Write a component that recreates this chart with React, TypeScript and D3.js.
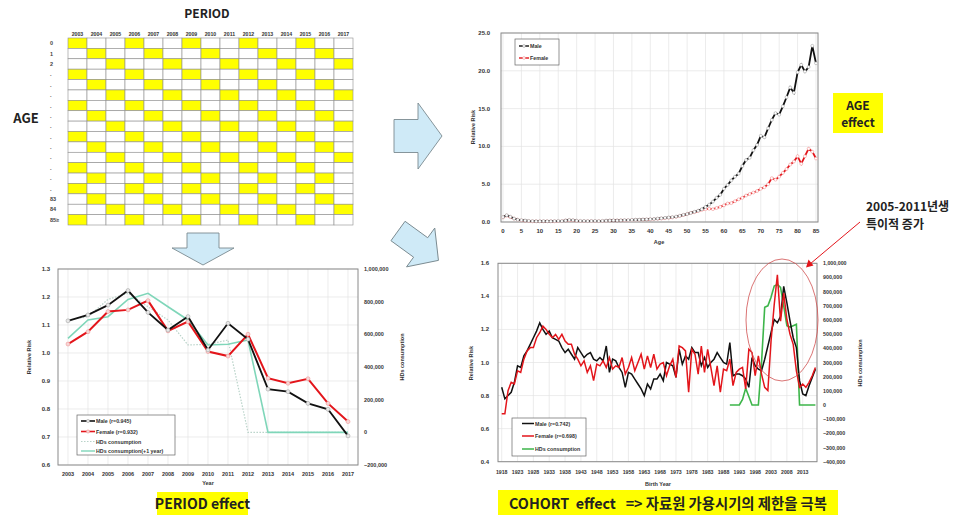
import React from 'react';
import * as d3 from 'd3';

// ---------- DATA ----------
const gridYears = ['2003','2004','2005','2006','2007','2008','2009','2010','2011','2012','2013','2014','2015','2016','2017'];
const ageRowLabels = ['0','1','2','.','.','.','.','.','.','.','.','.','.','.','.','83','84','85≥'];
const ageRowDiag = [0,1,2,3,4,5,6,7,8,9,10,11,12,13,15,16,17,18];

const periodYears = ['2003','2004','2005','2006','2007','2008','2009','2010','2011','2012','2013','2014','2015','2016','2017'];
const periodMale = [1.115,1.136,1.171,1.223,1.145,1.082,1.13,1.011,1.106,1.049,0.871,0.862,0.82,0.799,0.704];
const periodFemale = [1.032,1.076,1.148,1.154,1.187,1.079,1.112,1.005,0.989,1.067,0.91,0.892,0.908,0.82,0.755];
const periodHDs = [688000,708000,814000,851000,769000,688000,535000,539000,565000,0,0,0,0,0,0];
const periodHDsLag = [575000,688000,708000,814000,851000,769000,688000,535000,539000,565000,0,0,0,0,0];
const periodLeftTicks = [0.6,0.7,0.8,0.9,1.0,1.1,1.2,1.3];
const periodRightTicks = [-200000,0,200000,400000,600000,800000,1000000];

const ages = d3.range(0, 86);
const ageMale = [0.65,0.9,0.7,0.45,0.3,0.25,0.2,0.15,0.12,0.1,0.1,0.12,0.1,0.1,0.12,0.15,0.12,0.2,0.28,0.25,
  0.18,0.15,0.15,0.12,0.14,0.15,0.12,0.15,0.18,0.2,0.22,0.2,0.22,0.25,0.25,0.28,0.3,0.3,0.33,0.35,
  0.38,0.4,0.45,0.5,0.55,0.6,0.65,0.72,0.82,0.95,1.05,1.2,1.35,1.5,1.7,2.0,2.3,2.7,3.2,3.6,
  4.4,4.9,5.5,6.0,6.4,7.4,8.2,8.5,9.5,10.2,11.4,11.2,12.4,13.5,14.4,14.2,15.3,16.5,17.8,17.1,
  19.8,20.8,19.9,20.5,23.3,21.0];
const ageFemale = [0.6,0.85,0.65,0.45,0.3,0.22,0.15,0.12,0.1,0.1,0.1,0.1,0.1,0.1,0.1,0.12,0.12,0.2,0.25,0.22,
  0.15,0.13,0.12,0.12,0.13,0.13,0.12,0.14,0.16,0.18,0.2,0.2,0.21,0.23,0.24,0.26,0.28,0.29,0.31,0.33,
  0.35,0.38,0.42,0.46,0.5,0.55,0.6,0.68,0.8,0.92,1.05,1.2,1.3,1.45,1.6,1.7,1.75,1.7,1.85,2.0,
  2.2,2.45,2.5,2.75,3.0,3.2,3.5,3.7,3.9,4.1,4.4,4.6,5.0,5.8,5.6,6.0,6.5,7.0,7.6,8.0,
  8.7,7.7,8.7,9.7,9.3,8.4];
const ageYTicks = [0,5,10,15,20,25];
const ageXTicks = [0,5,10,15,20,25,30,35,40,45,50,55,60,65,70,75,80,85];

const cohortYears = d3.range(1918, 2018);
const cohortMale = [0.85,0.78,0.80,0.82,0.88,0.98,0.97,1.04,1.07,1.11,
  1.15,1.19,1.24,1.20,1.17,1.19,1.15,1.14,1.13,1.09,
  1.06,1.08,1.05,1.02,1.09,1.06,1.03,1.05,1.06,1.02,
  1.01,1.03,1.01,1.10,0.94,1.02,1.01,0.97,0.94,0.85,
  0.94,0.93,0.90,0.87,0.84,0.80,0.87,0.84,0.90,0.90,
  0.93,0.89,1.00,0.99,0.98,0.91,1.08,0.99,1.04,1.02,
  1.09,1.06,1.06,0.98,1.03,0.97,1.00,1.02,1.06,1.03,
  1.00,0.99,1.12,0.92,0.93,0.93,0.92,0.90,0.85,1.03,
  0.98,0.96,0.95,1.02,1.10,1.18,1.26,1.24,1.28,1.46,
  1.36,1.25,1.15,1.09,0.89,0.81,0.80,0.86,0.91,0.96];
const cohortFemale = [0.69,0.69,0.83,0.88,0.87,0.95,0.94,1.02,1.07,1.09,
  1.09,1.15,1.18,1.22,1.20,1.17,1.15,1.17,1.14,1.17,
  1.13,1.11,1.11,1.05,1.02,0.98,1.01,0.94,0.98,0.89,
  0.99,0.98,1.01,0.97,1.03,0.96,0.98,0.97,1.03,0.93,
  0.97,1.03,0.95,1.00,1.05,0.96,1.04,0.97,1.05,0.96,
  0.99,1.00,0.92,0.98,1.02,0.91,1.10,1.09,1.07,0.82,
  1.08,1.05,0.93,1.10,0.94,1.08,0.97,0.86,0.98,0.82,
  0.96,0.95,1.02,0.86,0.94,0.96,0.97,0.84,1.08,1.06,
  0.92,1.04,0.93,0.85,0.83,1.13,1.35,1.53,1.25,1.42,
  1.26,1.17,1.11,0.95,0.85,0.87,0.85,0.88,0.92,0.97];
const cohortHDsYears = d3.range(1990, 2018);
const cohortHDs = [0,0,0,0,40000,118000,60000,0,0,0,
  300000,690000,700000,760000,840000,850000,830000,700000,560000,550000,
  560000,570000,0,0,0,0,0,0];
const cohortLeftTicks = [0.4,0.6,0.8,1.0,1.2,1.4,1.6];
const cohortRightTicks = [-400000,-300000,-200000,-100000,0,100000,200000,300000,400000,500000,600000,700000,800000,900000,1000000];
const cohortXTicks = [1918,1923,1928,1933,1938,1943,1948,1953,1958,1963,1968,1973,1978,1983,1988,1993,1998,2003,2008,2013];

// ---------- STYLE ----------
const tf = "'Liberation Sans', Arial, sans-serif";
const kf = "'Noto Sans CJK KR', 'Noto Sans', sans-serif";
const RED = '#e3151b';
const GRID = '#e4e4e4';
const FRAME = '#8a8a8a';
const fmt = d3.format(',');

function AgePeriodGrid() {
  const x = d3.scaleBand<string>().domain(gridYears).range([68, 353]);
  const y = d3.scaleBand<number>().domain(d3.range(ageRowLabels.length)).range([38, 225]);
  return (
    <g>
      <text x={207} y={18} textAnchor="middle" fontFamily={kf} fontWeight={700} fontSize={12} fill="#222">PERIOD</text>
      <text x={26} y={123} textAnchor="middle" fontFamily={kf} fontWeight={700} fontSize={13} fill="#222">AGE</text>
      {gridYears.map(yr => (
        <text key={yr} x={x(yr)! + x.bandwidth() / 2} y={35.5} textAnchor="middle" fontFamily={tf} fontWeight={700} fontSize={5.2} fill="#333">{yr}</text>
      ))}
      {ageRowLabels.map((lab, r) => (
        <text key={r} x={50} y={y(r)! + y.bandwidth() / 2 + 2} fontFamily={tf} fontWeight={700} fontSize={5.5} fill="#444">{lab}</text>
      ))}
      {ageRowLabels.map((lab, r) => gridYears.map((yr, c) => (
        <rect key={r + '-' + c} x={x(yr)} y={y(r)} width={x.bandwidth()} height={y.bandwidth()}
          fill={((c - ageRowDiag[r]) % 3 + 3) % 3 === 0 ? '#ffff00' : '#ffffff'} stroke="#8e8e8e" strokeWidth={0.6} />
      )))}
    </g>
  );
}

function PeriodChart() {
  const x = d3.scaleBand<string>().domain(periodYears).range([58, 358]);
  const cx = (i: number) => x(periodYears[i])! + x.bandwidth() / 2;
  const y = d3.scaleLinear().domain([0.6, 1.3]).range([465, 269]);
  const yR = d3.scaleLinear().domain([-200000, 1000000]).range([465, 269]);
  const lineL = d3.line<number>().x((d, i) => cx(i)).y(d => y(d));
  const lineR = d3.line<number>().x((d, i) => cx(i)).y(d => yR(d));
  return (
    <g>
      {periodLeftTicks.map(t => <line key={t} x1={58} x2={358} y1={y(t)} y2={y(t)} stroke={GRID} strokeWidth={0.7} />)}
      {periodYears.map((yr, i) => <line key={yr} x1={cx(i)} x2={cx(i)} y1={269} y2={465} stroke={GRID} strokeWidth={0.7} />)}
      <rect x={58} y={269} width={300} height={196} fill="none" stroke={FRAME} strokeWidth={1} />
      {periodLeftTicks.map(t => (
        <text key={t} x={50} y={y(t) + 2} textAnchor="end" fontFamily={tf} fontWeight={700} fontSize={6} fill="#333">{t.toFixed(1)}</text>
      ))}
      {periodRightTicks.map(t => (
        <text key={t} x={364} y={yR(t) + 2} fontFamily={tf} fontWeight={700} fontSize={5.5} fill="#333">{fmt(t)}</text>
      ))}
      {periodYears.map((yr, i) => (
        <text key={yr} x={cx(i)} y={476} textAnchor="middle" fontFamily={tf} fontWeight={700} fontSize={5.5} fill="#333">{yr}</text>
      ))}
      <text x={208} y={485} textAnchor="middle" fontFamily={tf} fontWeight={700} fontSize={5.5} fill="#333">Year</text>
      <text transform="translate(31,357) rotate(-90)" textAnchor="middle" fontFamily={tf} fontWeight={700} fontSize={5.5} fill="#333">Relative Risk</text>
      <text transform="translate(404,357) rotate(-90)" textAnchor="middle" fontFamily={tf} fontWeight={700} fontSize={5.5} fill="#333">HDs consumption</text>
      <path d={lineR(periodHDs)!} fill="none" stroke="#b9d3c9" strokeWidth={1.2} strokeDasharray="1.5,1.5" />
      <path d={lineR(periodHDsLag)!} fill="none" stroke="#7fd6b9" strokeWidth={1.6} />
      <path d={lineL(periodFemale)!} fill="none" stroke={RED} strokeWidth={2} />
      {periodFemale.map((v, i) => <circle key={i} cx={cx(i)} cy={y(v)} r={2} fill="#f6d6d6" stroke="#e88" strokeWidth={0.5} />)}
      <path d={lineL(periodMale)!} fill="none" stroke="#111" strokeWidth={1.8} />
      {periodMale.map((v, i) => <circle key={i} cx={cx(i)} cy={y(v)} r={2} fill="#e6e6e6" stroke="#999" strokeWidth={0.5} />)}
      <rect x={77} y={415} width={98} height={40} fill="#fff" stroke="#666" strokeWidth={0.7} />
      <line x1={81} x2={95} y1={421} y2={421} stroke="#111" strokeWidth={1.6} />
      <circle cx={88} cy={421} r={1.6} fill="#e6e6e6" stroke="#999" strokeWidth={0.5} />
      <line x1={81} x2={95} y1={431.5} y2={431.5} stroke={RED} strokeWidth={1.6} />
      <circle cx={88} cy={431.5} r={1.6} fill="#f6d6d6" stroke="#e88" strokeWidth={0.5} />
      <line x1={81} x2={95} y1={441.5} y2={441.5} stroke="#b9d3c9" strokeWidth={1} strokeDasharray="1.5,1.5" />
      <line x1={81} x2={95} y1={451} y2={451} stroke="#7fd6b9" strokeWidth={1.4} />
      {['Male (r=0.945)', 'Female (r=0.932)', 'HDs consumption', 'HDs consumption(+1 year)'].map((t, i) => (
        <text key={t} x={96} y={[421, 431.5, 441.5, 451][i] + 2} fontFamily={tf} fontWeight={700} fontSize={5.3} fill="#333">{t}</text>
      ))}
    </g>
  );
}

function AgeChart() {
  const x = d3.scaleLinear().domain([0, 85]).range([503, 816]);
  const y = d3.scaleLinear().domain([0, 25]).range([222, 33]);
  const line = d3.line<number>().x((d, i) => x(ages[i])).y(d => y(d));
  return (
    <g>
      {ageYTicks.map(t => <line key={t} x1={501} x2={818} y1={y(t)} y2={y(t)} stroke={GRID} strokeWidth={0.7} />)}
      {ageXTicks.map(t => <line key={t} x1={x(t)} x2={x(t)} y1={33} y2={222} stroke={GRID} strokeWidth={0.7} />)}
      <rect x={501} y={33} width={317} height={189} fill="none" stroke={FRAME} strokeWidth={1} />
      {ageYTicks.map(t => (
        <text key={t} x={490} y={y(t) + 2} textAnchor="end" fontFamily={tf} fontWeight={700} fontSize={6} fill="#333">{t.toFixed(1)}</text>
      ))}
      {ageXTicks.map(t => (
        <text key={t} x={x(t)} y={233} textAnchor="middle" fontFamily={tf} fontWeight={700} fontSize={6} fill="#333">{t}</text>
      ))}
      <text x={659} y={244} textAnchor="middle" fontFamily={tf} fontWeight={700} fontSize={5.5} fill="#333">Age</text>
      <text transform="translate(475,127) rotate(-90)" textAnchor="middle" fontFamily={tf} fontWeight={700} fontSize={5.5} fill="#333">Relative Risk</text>
      <path d={line(ageFemale)!} fill="none" stroke={RED} strokeWidth={1.8} />
      {ageFemale.map((v, i) => <circle key={i} cx={x(ages[i])} cy={y(v)} r={1.5} fill="#fff" stroke="#f08a8a" strokeWidth={0.5} />)}
      <path d={line(ageMale)!} fill="none" stroke="#111" strokeWidth={1.8} />
      {ageMale.map((v, i) => <circle key={i} cx={x(ages[i])} cy={y(v)} r={1.5} fill="#fff" stroke="#999" strokeWidth={0.5} />)}
      <rect x={515} y={39} width={44} height={26} fill="#fff" stroke="#666" strokeWidth={0.7} />
      <line x1={519} x2={529} y1={46} y2={46} stroke="#111" strokeWidth={1.4} />
      <circle cx={524} cy={46} r={1.4} fill="#fff" stroke="#888" strokeWidth={0.5} />
      <line x1={519} x2={529} y1={58} y2={58} stroke={RED} strokeWidth={1.4} />
      <circle cx={524} cy={58} r={1.4} fill="#fff" stroke="#e88" strokeWidth={0.5} />
      <text x={530} y={48} fontFamily={tf} fontWeight={700} fontSize={5.3} fill="#333">Male</text>
      <text x={530} y={60} fontFamily={tf} fontWeight={700} fontSize={5.3} fill="#333">Female</text>
    </g>
  );
}

function CohortChart() {
  const x = d3.scaleLinear().domain([1918, 2017]).range([501.7, 815.4]);
  const y = d3.scaleLinear().domain([0.4, 1.6]).range([461.7, 263.3]);
  const yR = d3.scaleLinear().domain([-400000, 1000000]).range([461.7, 263.3]);
  const lineL = d3.line<number>().x((d, i) => x(cohortYears[i])).y(d => y(d));
  const lineG = d3.line<number>().x((d, i) => x(cohortHDsYears[i])).y(d => yR(d));
  return (
    <g>
      {cohortLeftTicks.map(t => <line key={t} x1={498} x2={817} y1={y(t)} y2={y(t)} stroke={GRID} strokeWidth={0.7} />)}
      {cohortXTicks.map(t => <line key={t} x1={x(t)} x2={x(t)} y1={263.3} y2={461.7} stroke={GRID} strokeWidth={0.7} />)}
      <rect x={498} y={263.3} width={319} height={198.4} fill="none" stroke={FRAME} strokeWidth={1} />
      {cohortLeftTicks.map(t => (
        <text key={t} x={489} y={y(t) + 2} textAnchor="end" fontFamily={tf} fontWeight={700} fontSize={6} fill="#333">{t.toFixed(1)}</text>
      ))}
      {cohortRightTicks.map(t => (
        <text key={t} x={823} y={yR(t) + 2} fontFamily={tf} fontWeight={700} fontSize={5.3} fill="#333">{fmt(t)}</text>
      ))}
      {cohortXTicks.map(t => (
        <text key={t} x={x(t)} y={474} textAnchor="middle" fontFamily={tf} fontWeight={700} fontSize={5.2} fill="#333">{t}</text>
      ))}
      <text x={658} y={486} textAnchor="middle" fontFamily={tf} fontWeight={700} fontSize={5.5} fill="#333">Birth Year</text>
      <text transform="translate(473,363) rotate(-90)" textAnchor="middle" fontFamily={tf} fontWeight={700} fontSize={5.5} fill="#333">Relative Risk</text>
      <text transform="translate(862,363) rotate(-90)" textAnchor="middle" fontFamily={tf} fontWeight={700} fontSize={5.5} fill="#333">HDs consumption</text>
      <path d={lineG(cohortHDs)!} fill="none" stroke="#3db54a" strokeWidth={1.6} />
      <path d={lineL(cohortMale)!} fill="none" stroke="#111" strokeWidth={1.5} />
      <path d={lineL(cohortFemale)!} fill="none" stroke={RED} strokeWidth={1.5} />
      <rect x={512} y={418} width={74} height={38} fill="#fff" stroke="#666" strokeWidth={0.7} />
      <line x1={522} x2={534} y1={423.5} y2={423.5} stroke="#111" strokeWidth={1.5} />
      <line x1={522} x2={534} y1={436} y2={436} stroke={RED} strokeWidth={1.5} />
      <line x1={522} x2={534} y1={449} y2={449} stroke="#3db54a" strokeWidth={1.5} />
      {['Male (r=0.742)', 'Female (r=0.698)', 'HDs consumption'].map((t, i) => (
        <text key={t} x={535} y={[423.5, 436, 449][i] + 2} fontFamily={tf} fontWeight={700} fontSize={5.3} fill="#333">{t}</text>
      ))}
      <ellipse cx={782} cy={320} rx={36} ry={61} fill="none" stroke="#d05050" strokeWidth={0.8} />
    </g>
  );
}

function Arrows() {
  const arrowFill = '#cfeaf7';
  const arrowStroke = '#7a8a90';
  const rightArrow = (L: number, sh: number, hh: number, hl: number) =>
    `M0,${-sh} L${L - hl},${-sh} L${L - hl},${-hh} L${L},0 L${L - hl},${hh} L${L - hl},${sh} L0,${sh} Z`;
  return (
    <g>
      <path transform="translate(394,136)" d={rightArrow(48, 16.5, 33, 24)} fill={arrowFill} stroke={arrowStroke} strokeWidth={0.9} />
      <path transform="translate(203,233) rotate(90)" d={rightArrow(32, 16, 31, 17)} fill={arrowFill} stroke={arrowStroke} strokeWidth={0.9} />
      <path transform="translate(398,231) rotate(36)" d={rightArrow(50, 12, 24, 22)} fill={arrowFill} stroke={arrowStroke} strokeWidth={0.9} />
    </g>
  );
}

function Labels() {
  return (
    <g>
      <rect x={833} y={93} width={50} height={40} fill="#ffff00" />
      <text x={858} y={109.5} textAnchor="middle" fontFamily={kf} fontWeight={700} fontSize={12} fill="#222">AGE</text>
      <text x={858} y={127} textAnchor="middle" fontFamily={kf} fontWeight={700} fontSize={12} fill="#222">effect</text>
      <rect x={157} y={492} width={91} height={23} fill="#ffff00" />
      <text x={202.5} y={509} textAnchor="middle" fontFamily={kf} fontWeight={700} fontSize={14} fill="#222">PERIOD effect</text>
      <rect x={498} y={490} width={340} height={25} fill="#ffff00" />
      <text x={509} y={508.5} fontFamily={kf} fontWeight={700} fontSize={14.5} fill="#222" textLength={318} lengthAdjust="spacingAndGlyphs" xmlSpace="preserve">COHORT  effect   =&gt; 자료원 가용시기의 제한을 극복</text>
      <text x={866} y={211} fontFamily={kf} fontWeight={700} fontSize={12} fill="#222">2005-2011년생</text>
      <text x={866} y={228.5} fontFamily={kf} fontWeight={700} fontSize={12} fill="#222">특이적 증가</text>
      <line x1={860} y1={222} x2={810} y2={264} stroke={RED} strokeWidth={1} />
      <path d="M806,267.5 L808.5,259.5 L813.5,265.5 Z" fill={RED} />
    </g>
  );
}

export default function App() {
  return (
    <svg width={959} height={516} viewBox="0 0 959 516" style={{ position: 'absolute', left: 0, top: 0, background: '#fff' }}>
      <rect x={0} y={0} width={959} height={516} fill="#fff" />
      <AgePeriodGrid />
      <Arrows />
      <PeriodChart />
      <AgeChart />
      <CohortChart />
      <Labels />
    </svg>
  );
}
